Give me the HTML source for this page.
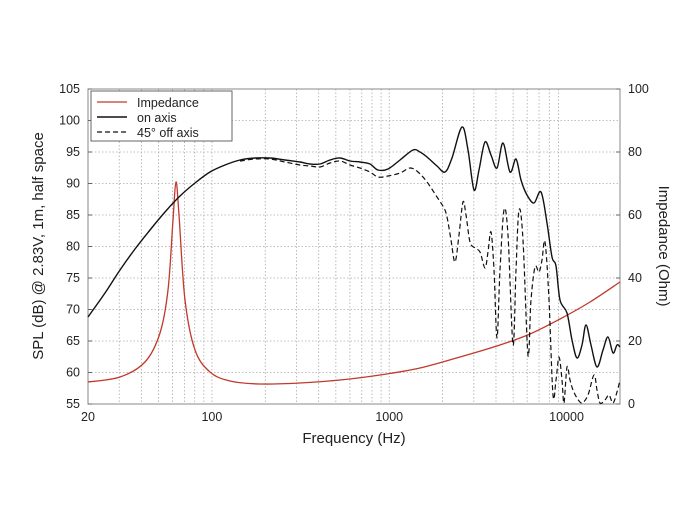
<!DOCTYPE html>
<html><head><meta charset="utf-8"><style>
body{margin:0;background:#fff;width:700px;height:525px;overflow:hidden}
text{font-family:"Liberation Sans",sans-serif;fill:#222}
</style></head><body>
<svg id="s" width="700" height="525" viewBox="0 0 700 525" xmlns="http://www.w3.org/2000/svg">
<g id="grid"></g>
<rect x="88" y="89" width="532" height="315" fill="none" stroke="#888" stroke-width="1"/>
<g id="ticks" font-size="12.5"></g>
<path id="imp" fill="none" stroke="#c0392b" stroke-width="1.3"/>
<path id="off" fill="none" stroke="#111" stroke-width="1.2" stroke-dasharray="5,3"/>
<path id="on" fill="none" stroke="#111" stroke-width="1.4"/>
<rect x="91" y="91" width="141" height="50" fill="#fff" stroke="#666"/>
<line x1="97" y1="102" x2="127" y2="102" stroke="#c0392b" stroke-width="1.3"/>
<line x1="97" y1="117" x2="127" y2="117" stroke="#111" stroke-width="1.4"/>
<line x1="97" y1="132" x2="127" y2="132" stroke="#111" stroke-width="1.2" stroke-dasharray="5,3"/>
<text x="137" y="107" font-size="12.5">Impedance</text>
<text x="137" y="122" font-size="12.5">on axis</text>
<text x="137" y="137" font-size="12.5">45° off axis</text>
<text x="354" y="443" font-size="15" text-anchor="middle">Frequency (Hz)</text>
<text transform="translate(43,246) rotate(-90)" font-size="15" text-anchor="middle">SPL (dB) @ 2.83V, 1m, half space</text>
<text transform="translate(659,246) rotate(90)" font-size="15" text-anchor="middle">Impedance (Ohm)</text>
</svg>
<script>
var NS="http://www.w3.org/2000/svg";
function el(p,t,a,txt){var e=document.createElementNS(NS,t);for(var k in a)e.setAttribute(k,a[k]);if(txt)e.textContent=txt;document.getElementById(p).appendChild(e);}
function fx(f){return 88+177.3*Math.log10(f/20);}
for(var d=1;d<=3;d++){var b=Math.pow(10,d);for(var m=1;m<10;m++){var f=b*m;if(f<=20||f>=20000)continue;var x=fx(f);el("grid","line",{x1:x,x2:x,y1:89,y2:404,stroke:"#aaa","stroke-width":0.8,"stroke-dasharray":"1.5,2"});}}
for(var v=60;v<=100;v+=5){var y=404-(v-55)*6.3;el("grid","line",{x1:88,x2:620,y1:y,y2:y,stroke:"#aaa","stroke-width":0.8,"stroke-dasharray":"1.5,2"});}
for(var v=55;v<=105;v+=5){var y=404-(v-55)*6.3;el("ticks","text",{x:80,y:y+4,"text-anchor":"end"},String(v));el("ticks","line",{x1:88,x2:92,y1:y,y2:y,stroke:"#666"});}
for(var v=0;v<=100;v+=20){var y=404-v*3.15;el("ticks","text",{x:628,y:y+4},String(v));el("ticks","line",{x1:616,x2:620,y1:y,y2:y,stroke:"#666"});}
[20,100,1000,10000].forEach(function(a){var x=fx(a);el("ticks","text",{x:x,y:421,"text-anchor":"middle"},String(a));});
function smooth(pts){var d="M"+pts[0][0]+","+pts[0][1];for(var i=0;i<pts.length-1;i++){var p0=pts[Math.max(0,i-1)],p1=pts[i],p2=pts[i+1],p3=pts[Math.min(pts.length-1,i+2)];
d+=" C"+(p1[0]+(p2[0]-p0[0])/6).toFixed(1)+","+(p1[1]+(p2[1]-p0[1])/6).toFixed(1)+" "+(p2[0]-(p3[0]-p1[0])/6).toFixed(1)+","+(p2[1]-(p3[1]-p1[1])/6).toFixed(1)+" "+p2[0]+","+p2[1];}return d;}
var imp=[[88,382],[120,377],[145,362],[160,333],[168,290],[173,220],[176,182],[179,215],[185,300],[195,350],[210,372],[230,381],[260,384],[300,383],[340,380],[380,375],[420,368],[460,357],[500,345],[530,334],[560,319],[590,302],[620,282]];
document.getElementById("imp").setAttribute("d",smooth(imp));
var on=[[88,317],[105,293],[120,270],[135,249],[150,230],[165,212],[180,196],[195,183],[210,172],[225,165],[240,160],[255,158],[270,158],[285,160],[300,162],[310,164],[320,164],[330,160],[340,158],[350,161],[360,162],[370,164],[378,170],[388,169],[400,160],[413,150],[420,152],[427,157],[437,166],[445,172],[452,158],[462,127],[468,150],[474,190],[479,170],[485,142],[491,155],[497,168],[503,143],[510,172],[516,159],[521,180],[527,195],[534,203],[541,192],[547,223],[552,257],[556,266],[560,300],[567,313],[572,340],[577,358],[582,345],[586,325],[591,345],[597,367],[603,350],[608,337],[613,353],[617,345],[620,347]];
document.getElementById("on").setAttribute("d",smooth(on));
var off=[[240,161],[255,159],[270,159],[285,162],[300,165],[310,166],[320,167],[330,163],[340,161],[350,165],[360,168],[370,172],[378,177],[388,176],[400,173],[410,168],[418,172],[427,182],[437,197],[444,208],[447,217],[451,240],[455,262],[459,235],[463,202],[466,215],[470,242],[475,248],[480,252],[485,268],[488,252],[491,232],[494,270],[497,338],[500,270],[504,210],[508,235],[513,345],[516,270],[519,210],[523,240],[528,355],[531,300],[535,267],[539,272],[542,260],[545,242],[549,300],[553,395],[556,380],[559,357],[562,380],[564,403],[567,367],[570,380],[573,390],[577,398],[582,403],[588,395],[594,375],[597,390],[600,403],[605,400],[609,395],[613,403],[617,392],[620,380]];
document.getElementById("off").setAttribute("d",smooth(off));
</script>
</body></html>
